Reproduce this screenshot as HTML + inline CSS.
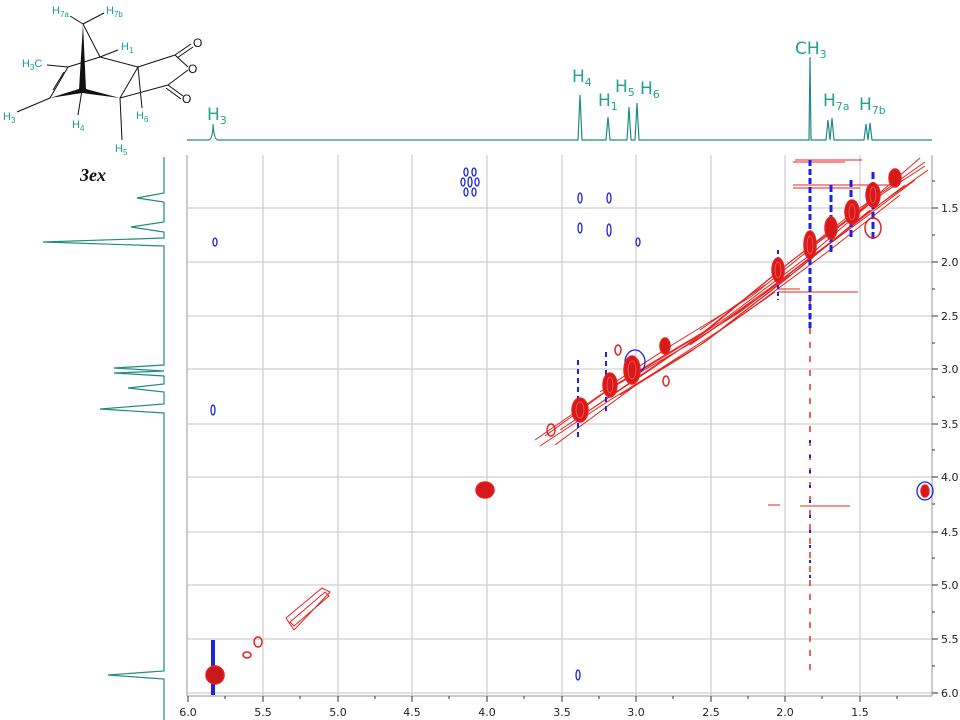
<!DOCTYPE html>
<html><head><meta charset="utf-8"><style>
body{margin:0;background:#fff;width:960px;height:720px;overflow:hidden}
svg{display:block;font-family:"DejaVu Sans","Liberation Sans",sans-serif}
</style></head><body>
<svg width="960" height="720" viewBox="0 0 960 720">
<g stroke="#cfcfcf" stroke-width="1.3">
<line x1="263" y1="155" x2="263" y2="695"/><line x1="338" y1="155" x2="338" y2="695"/>
<line x1="412" y1="155" x2="412" y2="695"/><line x1="487" y1="155" x2="487" y2="695"/>
<line x1="562" y1="155" x2="562" y2="695"/><line x1="636" y1="155" x2="636" y2="695"/>
<line x1="711" y1="155" x2="711" y2="695"/><line x1="785" y1="155" x2="785" y2="695"/>
<line x1="860" y1="155" x2="860" y2="695"/>
<line x1="187" y1="208" x2="932" y2="208"/><line x1="187" y1="262" x2="932" y2="262"/>
<line x1="187" y1="316" x2="932" y2="316"/><line x1="187" y1="369" x2="932" y2="369"/>
<line x1="187" y1="424" x2="932" y2="424"/><line x1="187" y1="477" x2="932" y2="477"/>
<line x1="187" y1="532" x2="932" y2="532"/><line x1="187" y1="585" x2="932" y2="585"/>
<line x1="187" y1="639" x2="932" y2="639"/><line x1="187" y1="693" x2="932" y2="693"/>
</g>
<g stroke="#aaa" stroke-width="1.2">
<line x1="187" y1="155" x2="187" y2="696"/>
<line x1="932" y1="155" x2="932" y2="696"/>
<line x1="187" y1="696" x2="932" y2="696"/>
</g>
<g stroke="#333" stroke-width="1">
<line x1="188" y1="696" x2="188" y2="702"/><line x1="263" y1="696" x2="263" y2="702"/><line x1="338" y1="696" x2="338" y2="702"/><line x1="412" y1="696" x2="412" y2="702"/><line x1="487" y1="696" x2="487" y2="702"/><line x1="562" y1="696" x2="562" y2="702"/><line x1="636" y1="696" x2="636" y2="702"/><line x1="711" y1="696" x2="711" y2="702"/><line x1="785" y1="696" x2="785" y2="702"/><line x1="860" y1="696" x2="860" y2="702"/>
<line x1="225" y1="696" x2="225" y2="699"/><line x1="300" y1="696" x2="300" y2="699"/><line x1="375" y1="696" x2="375" y2="699"/><line x1="449" y1="696" x2="449" y2="699"/><line x1="524" y1="696" x2="524" y2="699"/><line x1="599" y1="696" x2="599" y2="699"/><line x1="673" y1="696" x2="673" y2="699"/><line x1="748" y1="696" x2="748" y2="699"/><line x1="822" y1="696" x2="822" y2="699"/><line x1="897" y1="696" x2="897" y2="699"/>
<line x1="932" y1="208" x2="938" y2="208"/><line x1="932" y1="262" x2="938" y2="262"/><line x1="932" y1="316" x2="938" y2="316"/><line x1="932" y1="369" x2="938" y2="369"/><line x1="932" y1="424" x2="938" y2="424"/><line x1="932" y1="477" x2="938" y2="477"/><line x1="932" y1="532" x2="938" y2="532"/><line x1="932" y1="585" x2="938" y2="585"/><line x1="932" y1="639" x2="938" y2="639"/><line x1="932" y1="693" x2="938" y2="693"/>
<line x1="932" y1="181" x2="935" y2="181"/><line x1="932" y1="235" x2="935" y2="235"/><line x1="932" y1="289" x2="935" y2="289"/><line x1="932" y1="343" x2="935" y2="343"/><line x1="932" y1="397" x2="935" y2="397"/><line x1="932" y1="450" x2="935" y2="450"/><line x1="932" y1="504" x2="935" y2="504"/><line x1="932" y1="558" x2="935" y2="558"/><line x1="932" y1="612" x2="935" y2="612"/><line x1="932" y1="666" x2="935" y2="666"/>
</g>
<g font-size="11" fill="#222" text-anchor="middle">
<text x="188" y="716">6.0</text><text x="263" y="716">5.5</text><text x="338" y="716">5.0</text><text x="412" y="716">4.5</text><text x="487" y="716">4.0</text><text x="562" y="716">3.5</text><text x="636" y="716">3.0</text><text x="711" y="716">2.5</text><text x="785" y="716">2.0</text><text x="860" y="716">1.5</text>
</g>
<g font-size="11" fill="#222">
<text x="941" y="212">1.5</text><text x="941" y="266">2.0</text><text x="941" y="320">2.5</text><text x="941" y="373">3.0</text><text x="941" y="428">3.5</text><text x="941" y="481">4.0</text><text x="941" y="536">4.5</text><text x="941" y="589">5.0</text><text x="941" y="643">5.5</text><text x="941" y="697">6.0</text>
</g>
<!-- diagonal band -->
<g fill="none" stroke="#e8201c" stroke-width="1">
<path d="M535,440 L600,395 L700,335 L780,270 L850,215 L925,162"/>
<path d="M540,446 L610,400 L705,342 L785,280 L855,222 L928,170"/>
<path d="M545,436 L615,385 L710,328 L790,262 L860,210 L920,158"/>
<path d="M555,445 L640,382 L720,330 L800,268 L870,210"/>
<path d="M560,430 L650,370 L730,315 L810,255 L880,195"/>
<path d="M590,410 L660,362 L740,312 L805,262 L870,214 L915,180"/>
<path d="M600,392 L672,345 L752,296 L815,245 L885,192 L925,166"/>
<path d="M620,395 L690,352 L760,302 L830,250 L900,195"/>
<path d="M630,378 L700,338 L770,288 L840,235 L905,185"/>
<path d="M690,345 L755,300 M700,330 L765,285 M718,332 L775,292 M735,315 L790,275"/>
<path d="M290,622 L325,592 L329,596 L294,626 Z"/>
<path d="M286,618 L322,588 L330,592 L294,630 Z"/>
<path d="M795,160 H862 M793,185 H892 M793,188 H860 M778,292 H858 M778,289 H800 M800,506 H850 M768,505 H780 M793,162 H845"/>
</g>
<g fill="none" stroke="#e8201c" stroke-width="1.4" stroke-dasharray="6 8">
<line x1="810" y1="300" x2="810" y2="670"/>
</g>
<g fill="none" stroke="#1a22e6" stroke-width="2">
<line x1="213" y1="640" x2="213" y2="695" stroke-width="4"/>
<line x1="578" y1="360" x2="578" y2="440" stroke-dasharray="5 4"/>
<line x1="606" y1="352" x2="606" y2="415" stroke-dasharray="5 4"/>
<line x1="810" y1="160" x2="810" y2="330" stroke-width="3" stroke-dasharray="6 3"/>
<line x1="810" y1="440" x2="810" y2="590" stroke-dasharray="3 12"/>
<line x1="831" y1="185" x2="831" y2="255" stroke-width="3" stroke-dasharray="7 3"/>
<line x1="851" y1="180" x2="851" y2="240" stroke-width="3" stroke-dasharray="7 3"/>
<line x1="873" y1="172" x2="873" y2="240" stroke-width="3" stroke-dasharray="7 3"/>
<line x1="778" y1="250" x2="778" y2="300" stroke-width="2" stroke-dasharray="4 3"/>
</g>
<g fill="none" stroke="#1a22e6" stroke-width="1.3">
<ellipse cx="466" cy="172" rx="2" ry="4"/><ellipse cx="474" cy="172" rx="2" ry="4"/>
<ellipse cx="463" cy="182" rx="2" ry="4"/><ellipse cx="477" cy="182" rx="2" ry="4"/>
<ellipse cx="470" cy="182" rx="2" ry="5"/>
<ellipse cx="466" cy="192" rx="2" ry="4"/><ellipse cx="474" cy="192" rx="2" ry="4"/>
<ellipse cx="580" cy="198" rx="2" ry="5"/><ellipse cx="609" cy="198" rx="2" ry="5"/>
<ellipse cx="580" cy="228" rx="2" ry="5"/><ellipse cx="609" cy="230" rx="2" ry="6"/>
<ellipse cx="638" cy="242" rx="2" ry="4"/><ellipse cx="215" cy="242" rx="2" ry="4"/>
<ellipse cx="213" cy="410" rx="2" ry="5"/><ellipse cx="578" cy="675" rx="2" ry="5"/>
<ellipse cx="925" cy="491" rx="8" ry="9"/><ellipse cx="635" cy="362" rx="10" ry="12"/>
</g>
<g fill="#d7191c" stroke="#e8201c" stroke-width="1.5">
<ellipse cx="215" cy="675" rx="9" ry="9" fill="#c8181a"/>
<ellipse cx="247" cy="655" rx="4" ry="3" fill="none"/><ellipse cx="258" cy="642" rx="4" ry="5" fill="none"/>
<ellipse cx="551" cy="430" rx="4" ry="6" fill="none"/>
<ellipse cx="580" cy="410" rx="8" ry="12"/>
<ellipse cx="610" cy="385" rx="7" ry="12"/>
<ellipse cx="632" cy="370" rx="8" ry="14"/>
<ellipse cx="665" cy="346" rx="5" ry="8"/>
<ellipse cx="666" cy="381" rx="3" ry="5" fill="none"/><ellipse cx="618" cy="350" rx="3" ry="5" fill="none"/>
<ellipse cx="778" cy="270" rx="6" ry="12"/>
<ellipse cx="810" cy="245" rx="6" ry="14"/>
<ellipse cx="831" cy="228" rx="6" ry="11"/>
<ellipse cx="852" cy="212" rx="7" ry="12"/>
<ellipse cx="873" cy="195" rx="7" ry="12"/>
<ellipse cx="895" cy="178" rx="6" ry="9"/>
<ellipse cx="485" cy="490" rx="9" ry="8"/>
<ellipse cx="925" cy="491" rx="4" ry="6"/>
<ellipse cx="873" cy="228" rx="8" ry="10" fill="none"/>
</g>
<g fill="none" stroke="#ff5a55" stroke-width="0.8">
<ellipse cx="580" cy="410" rx="4" ry="8"/><ellipse cx="610" cy="385" rx="3" ry="8"/><ellipse cx="632" cy="370" rx="4" ry="9"/>
<ellipse cx="778" cy="270" rx="3" ry="8"/><ellipse cx="810" cy="245" rx="3" ry="9"/><ellipse cx="852" cy="212" rx="3" ry="8"/><ellipse cx="873" cy="195" rx="3" ry="8"/>
</g>
<path fill="none" stroke="#1f8c82" stroke-width="1.2" d="M187,140 H208 Q213,140 213,124 Q214,140 218,140 H574 L578,140 L580,95 L582,140 H606 L608,117 L610,140 H627 L629,107 L631,140 H635 L637,103 L639,140 H806 L809,140 L810,57 L811,140 H826 L828,120 L830,140 L832,118 L834,140 H864 L866,124 L868,140 L870,123 L872,140 H932"/>
<g fill="#21a38f" font-size="17">
<text x="207" y="120">H<tspan font-size="11" dy="4">3</tspan></text>
<text x="572" y="82">H<tspan font-size="11" dy="4">4</tspan></text>
<text x="598" y="106">H<tspan font-size="11" dy="4">1</tspan></text>
<text x="615" y="92">H<tspan font-size="11" dy="4">5</tspan></text>
<text x="640" y="94">H<tspan font-size="11" dy="4">6</tspan></text>
<text x="795" y="54">CH<tspan font-size="11" dy="4">3</tspan></text>
<text x="823" y="106">H<tspan font-size="11" dy="4">7a</tspan></text>
<text x="859" y="110">H<tspan font-size="11" dy="4">7b</tspan></text>
</g>
<path fill="none" stroke="#1f8c82" stroke-width="1.2" d="M164,157 V193 L137,198 L164,202 V222 L131,227 L164,232 V238 L43,242 L164,246 V365 L114,368 L164,371 L114,373 L164,376 V384 L128,388 L164,392 V404 L100,409 L164,413 V671 L108,675 L164,679 V720"/>
<g stroke="#111" stroke-width="1" fill="none">
<line x1="83" y1="24" x2="70" y2="16"/><line x1="83" y1="24" x2="104" y2="13"/>
<line x1="83" y1="24" x2="100" y2="57"/><line x1="100" y1="57" x2="118" y2="50"/>
<line x1="100" y1="57" x2="138" y2="67"/><line x1="100" y1="57" x2="68" y2="67"/>
<line x1="68" y1="67" x2="50" y2="98"/><line x1="64" y1="72" x2="53" y2="90"/>
<line x1="68" y1="67" x2="47" y2="65"/><line x1="50" y1="98" x2="17" y2="112"/>
<line x1="138" y1="67" x2="175" y2="55"/><line x1="138" y1="67" x2="142" y2="108"/>
<line x1="138" y1="67" x2="120" y2="98"/><line x1="120" y1="98" x2="168" y2="85"/>
<line x1="175" y1="55" x2="191" y2="44"/><line x1="177" y1="58" x2="193" y2="47"/>
<line x1="175" y1="55" x2="188" y2="67"/><line x1="168" y1="85" x2="188" y2="70"/>
<line x1="168" y1="85" x2="183" y2="96"/><line x1="166" y1="88" x2="181" y2="99"/>
<line x1="82" y1="90" x2="78" y2="115"/><line x1="120" y1="98" x2="122" y2="140"/>
</g>
<polygon points="83,24 86,90 79,90" fill="#111"/>
<polygon points="50,98 82,88 120,98 82,93" fill="#111"/>
<g font-family="Liberation Sans,sans-serif" font-size="11" fill="#18a08f">
<text x="193" y="47" fill="#111" font-size="12">O</text><text x="188" y="73" fill="#111" font-size="12">O</text><text x="182" y="103" fill="#111" font-size="12">O</text>
<text x="52" y="14">H<tspan font-size="8" dy="3">7a</tspan></text>
<text x="106" y="14">H<tspan font-size="8" dy="3">7b</tspan></text>
<text x="121" y="50">H<tspan font-size="8" dy="3">1</tspan></text>
<text x="22" y="67">H<tspan font-size="8" dy="3">3</tspan><tspan dy="-3">C</tspan></text>
<text x="3" y="120">H<tspan font-size="8" dy="3">3</tspan></text>
<text x="72" y="128">H<tspan font-size="8" dy="3">4</tspan></text>
<text x="136" y="119">H<tspan font-size="8" dy="3">6</tspan></text>
<text x="115" y="152">H<tspan font-size="8" dy="3">5</tspan></text>
</g>
<text x="80" y="181" font-family="Liberation Serif,serif" font-style="italic" font-weight="bold" font-size="18" fill="#111">3ex</text>
</svg>
</body></html>
